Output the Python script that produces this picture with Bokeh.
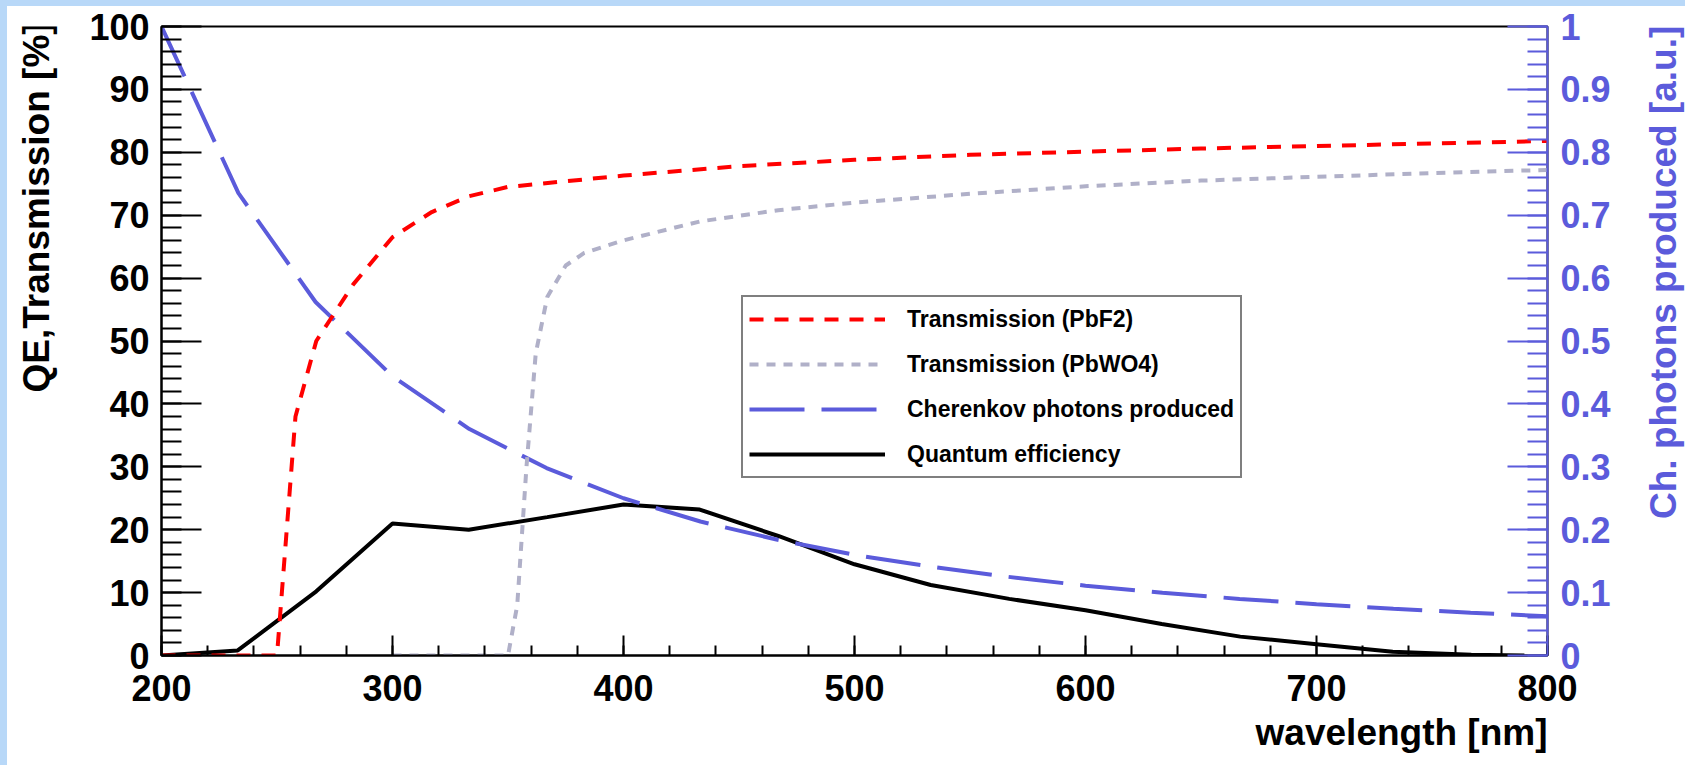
import math
from bokeh.plotting import figure
from bokeh.layouts import row
from bokeh.models import (Range1d, LinearAxis, SingleIntervalTicker, Legend, LegendItem,
                          Title, Label, CustomJSTickFormatter)
from bokeh.embed import file_html
from bokeh.resources import INLINE

# ---------------- data ----------------
pbf2_wl = [200, 250, 258, 267, 283, 300, 317, 333, 350, 400, 450, 500, 550, 600, 650, 700, 750, 800]
pbf2_tr = [0, 0, 38, 50, 59, 66.5, 70.5, 73, 74.5, 76.3, 77.8, 78.8, 79.6, 80.1, 80.6, 81.0, 81.4, 81.8]

pbwo4_wl = [300, 350, 354, 358, 362, 367, 375, 383, 400, 433, 467, 500, 550, 600, 650, 700, 750, 800]
pbwo4_tr = [0, 0, 8, 30, 48, 57, 62, 64, 66, 69, 70.8, 72, 73.4, 74.6, 75.5, 76.1, 76.7, 77.2]

cher_wl = [200, 233.3, 266.7, 300, 333.3, 366.7, 400, 433.3, 466.7, 500, 533.3, 566.7,
           600, 633.3, 666.7, 700, 733.3, 766.7, 800]
cher_ph = [1.0, 0.735, 0.562, 0.444, 0.36, 0.298, 0.25, 0.213, 0.184, 0.16, 0.141, 0.125,
           0.111, 0.0997, 0.09, 0.0816, 0.0744, 0.068, 0.0625]

qe_wl = [200, 233, 267, 300, 333, 367, 400, 433, 467, 500, 533, 567, 600, 633, 667, 700, 733, 767, 790]
qe_val = [0, 0.8, 10.2, 21.0, 20.0, 22.0, 24.0, 23.2, 19.0, 14.5, 11.2, 9.0, 7.2, 5.0, 3.0, 1.8, 0.6, 0.1, 0.0]

series_labels = ["Transmission (PbF2)", "Transmission (PbWO4)",
                 "Cherenkov photons produced", "Quantum efficiency"]
x_title = "wavelength [nm]"
y_title = "QE,Transmission [%]"
y2_title = "Ch. photons produced [a.u.]"

# ---------------- styling ----------------
FONT = "Liberation Sans"
BLUE = "#5b5bdb"
RED = "#ff0000"
GREY = "#b0b0c8"
STRIP = "#b8d8f8"
TICK_FS = "36px"
TITLE_FS = "37px"
H = 765
W_LEFT = 72     # companion panel carrying the left axis title
W_RIGHT = 58    # companion panel carrying the right axis title

def side_panel(width, strip_css):
    q = figure(width=width, height=H, output_backend="svg", toolbar_location=None,
               x_range=Range1d(0, width), y_range=Range1d(0, H),
               x_axis_type=None, y_axis_type=None, min_border=0)
    q.styles = {"box-shadow": strip_css}
    q.outline_line_color = None
    q.background_fill_alpha = 0
    q.border_fill_alpha = 0
    q.grid.visible = False
    return q

p = figure(width=161 - W_LEFT + 1386 + 80, height=H, frame_width=1386, frame_height=629,
           output_backend="svg", toolbar_location=None,
           x_range=Range1d(200, 800), y_range=Range1d(0, 100),
           min_border_left=161 - W_LEFT, min_border_right=80,
           min_border_top=26, min_border_bottom=110)
p.styles = {"box-shadow": f"inset 0 6px 0 0 {STRIP}"}
p.background_fill_color = "white"
p.border_fill_alpha = 0
p.grid.visible = False
p.outline_line_color = "black"
p.outline_line_width = 2

def style_axis(ax, color, major_in, minor_in, standoff):
    ax.axis_line_color = color
    ax.axis_line_width = 2
    ax.major_tick_line_color = color
    ax.minor_tick_line_color = color
    ax.major_tick_line_width = 2
    ax.minor_tick_line_width = 2
    ax.major_tick_in = major_in
    ax.major_tick_out = 0
    ax.minor_tick_in = minor_in
    ax.minor_tick_out = 0
    ax.major_label_text_font = FONT
    ax.major_label_text_font_size = TICK_FS
    ax.major_label_text_font_style = "bold"
    ax.major_label_text_color = color
    ax.major_label_standoff = standoff

p.xaxis.ticker = SingleIntervalTicker(interval=100, num_minor_ticks=5)
style_axis(p.xaxis[0], "black", 20, 10, 19)
p.yaxis.ticker = SingleIntervalTicker(interval=10, num_minor_ticks=5)
style_axis(p.yaxis[0], "black", 40, 20, 12)

p.extra_y_ranges = {"right": Range1d(0, 1)}
rax = LinearAxis(y_range_name="right",
                 ticker=SingleIntervalTicker(interval=0.1, num_minor_ticks=5),
                 formatter=CustomJSTickFormatter(code="return String(Math.round(tick*10)/10);"))
style_axis(rax, BLUE, 40, 20, 13)
p.add_layout(rax, "right")

r_qe = p.line(qe_wl, qe_val, line_color="black", line_width=4)
r_ch = p.line(cher_wl, cher_ph, y_range_name="right", line_color=BLUE, line_width=4,
              line_dash="55 17")
r_w = p.line(pbwo4_wl, pbwo4_tr, line_color=GREY, line_width=4, line_dash="9 8")
r_f = p.line(pbf2_wl, pbf2_tr, line_color=RED, line_width=4, line_dash="14 11")

legend = Legend(items=[LegendItem(label=series_labels[0], renderers=[r_f]),
                       LegendItem(label=series_labels[1], renderers=[r_w]),
                       LegendItem(label=series_labels[2], renderers=[r_ch]),
                       LegendItem(label=series_labels[3], renderers=[r_qe])],
                location=(580, 177), orientation="vertical",
                glyph_width=136, glyph_height=32, label_height=32, spacing=13,
                padding=6, margin=0, label_standoff=22,
                label_text_font=FONT, label_text_font_size="23px",
                label_text_font_style="bold", label_text_color="black",
                border_line_color="black", border_line_width=2,
                background_fill_color="white", background_fill_alpha=1.0)
p.add_layout(legend)

p.add_layout(Title(text=x_title, text_color="black", standoff=13, vertical_align="bottom",
                   text_font=FONT, text_font_size=TITLE_FS, text_font_style="bold",
                   align="right"), "below")

title_style = dict(angle=math.pi / 2, text_align="right", text_baseline="middle",
                   text_font=FONT, text_font_size=TITLE_FS, text_font_style="bold")

p0 = side_panel(W_LEFT, f"inset 7px 6px 0 0 {STRIP}")
p0.add_layout(Label(x=36, y=H + 5, text=y_title, text_color="black", **title_style))

p2 = side_panel(W_RIGHT, f"inset 0 6px 0 0 {STRIP}")
p2.add_layout(Label(x=36, y=H + 1, text=y2_title, text_color=BLUE, **title_style))

layout = row(p0, p, p2)
open("out.html", "w").write(file_html(layout, INLINE))
